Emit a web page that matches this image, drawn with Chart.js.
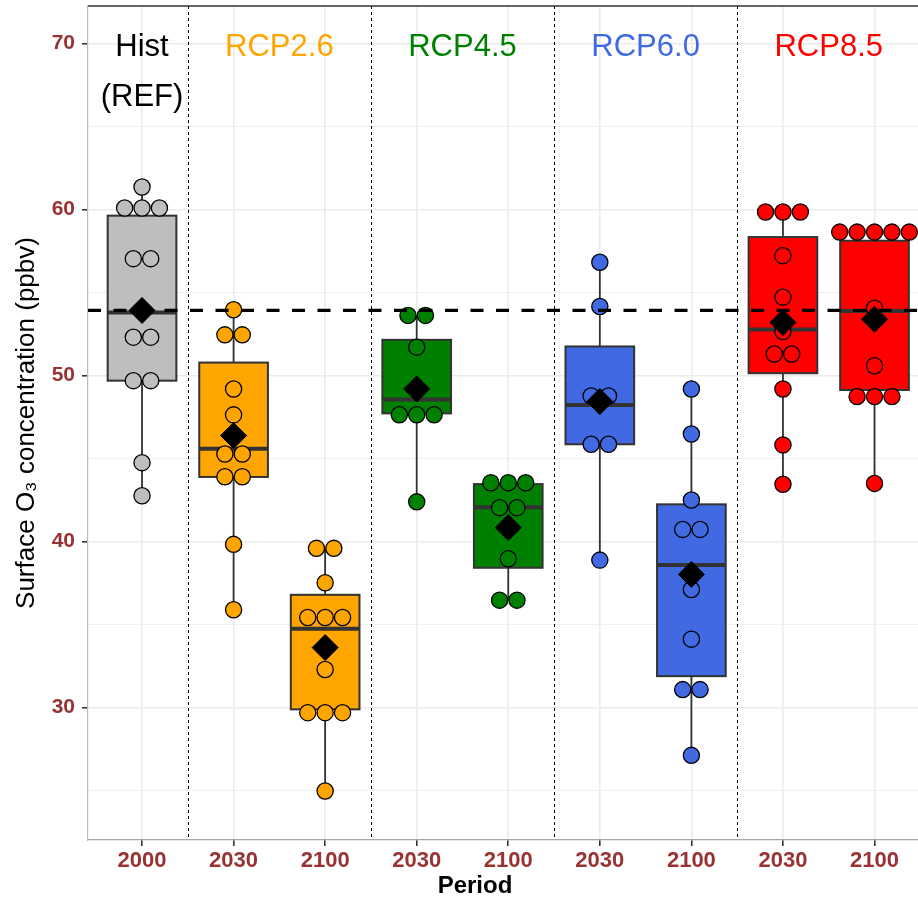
<!DOCTYPE html>
<html>
<head>
<meta charset="utf-8">
<script src="https://cdn.jsdelivr.net/npm/chart.js@4.4.1/dist/chart.umd.min.js"></script>
<style>
  html, body { margin: 0; padding: 0; background: #fff; }
  canvas { display: block; }
</style>
</head>
<body>
<canvas id="o3Chart" width="918" height="903"></canvas>
<script>
// categories
const periods = ['2000', '2030', '2100', '2030', '2100', '2030', '2100', '2030', '2100'];
const groupColors = ['#BEBEBE', '#FFA500', '#FFA500', '#008000', '#008000', '#4169E1', '#4169E1', '#FF0000', '#FF0000'];
const scenarios = [['Hist', '(REF)'], 'RCP2.6', 'RCP4.5', 'RCP6.0', 'RCP8.5'];
const scenarioColors = ['#000000', '#FFA500', '#008000', '#4169E1', '#FF0000'];
const scenarioCenters = [1, 2.5, 4.5, 6.5, 8.5];
const scenarioBreaks = [1.5, 3.5, 5.5, 7.5];

// model values (ppbv), one array per box
const hist2000 = [61.37, 60.1, 60.1, 60.1, 57.05, 57.05, 52.32, 52.32, 49.7, 49.7, 44.76, 42.77];
const rcp26_2030 = [53.97, 52.46, 52.46, 49.2, 47.64, 45.28, 45.28, 43.91, 43.91, 39.84, 35.9];
const rcp26_2100 = [39.6, 39.6, 37.53, 35.43, 35.43, 35.43, 32.3, 29.7, 29.7, 29.7, 24.98];
const rcp45_2030 = [53.63, 53.63, 51.72, 47.65, 47.65, 47.65, 42.4];
const rcp45_2100 = [43.55, 43.55, 43.55, 42.05, 42.05, 38.97, 36.48, 36.48];
const rcp60_2030 = [56.83, 54.17, 48.78, 48.78, 45.87, 45.87, 38.89];
const rcp60_2100 = [49.2, 46.49, 42.51, 40.74, 40.74, 37.12, 34.13, 31.09, 31.09, 27.13];
const rcp85_2030 = [59.86, 59.86, 59.86, 57.23, 54.73, 52.66, 51.31, 51.31, 49.2, 45.83, 43.46];
const rcp85_2100 = [58.65, 58.65, 58.65, 58.65, 58.65, 54.07, 50.6, 48.74, 48.74, 48.74, 43.51];
const groupDots = [hist2000, rcp26_2030, rcp26_2100, rcp45_2030, rcp45_2100, rcp60_2030, rcp60_2100, rcp85_2030, rcp85_2100];

// box statistics
const boxLow    = [42.77, 35.9, 24.98, 42.4, 36.48, 38.89, 27.13, 43.46, 43.51];
const boxQ1     = [49.7, 43.9, 29.9, 47.73, 38.43, 45.87, 31.9, 50.15, 49.14];
const boxMedian = [53.8, 45.6, 34.75, 48.56, 42.07, 48.24, 38.59, 52.78, 53.9];
const boxQ3     = [59.64, 50.79, 36.8, 52.16, 43.47, 51.76, 42.25, 58.35, 58.13];
const boxHigh   = [61.37, 53.97, 39.6, 53.63, 43.55, 56.83, 49.2, 59.86, 58.65];
const groupMeans = [53.93, 46.39, 33.62, 49.2, 40.85, 48.44, 38.03, 53.2, 53.4];
const refLevel = 53.93;

const fontFamily = "'Liberation Sans', Arial, sans-serif";
const tickColor = '#993333';
const boxWidth = 0.75;
const dotStep = 0.19;

// stack equal values side by side like a dotplot
const dotPoints = [];
const dotColors = [];
groupDots.forEach((vals, g) => {
  const counts = {};
  vals.forEach(v => { counts[v] = (counts[v] || 0) + 1; });
  const seen = {};
  vals.forEach(v => {
    const k = seen[v] || 0;
    seen[v] = k + 1;
    dotPoints.push({ x: g + 1 + (k - (counts[v] - 1) / 2) * dotStep, y: v });
    dotColors.push(groupColors[g]);
  });
});
const meanPoints = groupMeans.map((m, i) => ({ x: i + 1, y: m }));

const boxPlugin = {
  id: 'boxes',
  beforeDatasetsDraw(chart) {
    const { ctx, chartArea, scales: { x, y } } = chart;
    ctx.save();
    ctx.strokeStyle = '#000';
    ctx.lineWidth = 1;
    ctx.setLineDash([3, 3]);
    scenarioBreaks.forEach(b => {
      const px = Math.round(x.getPixelForValue(b)) + 0.5;
      ctx.beginPath();
      ctx.moveTo(px, chartArea.top);
      ctx.lineTo(px, chartArea.bottom);
      ctx.stroke();
    });
    ctx.setLineDash([]);
    periods.forEach((p, i) => {
      const cx = x.getPixelForValue(i + 1);
      const half = x.getPixelForValue(i + 1 + boxWidth / 2) - cx;
      const yLo = y.getPixelForValue(boxLow[i]);
      const yQ1 = y.getPixelForValue(boxQ1[i]);
      const yMed = y.getPixelForValue(boxMedian[i]);
      const yQ3 = y.getPixelForValue(boxQ3[i]);
      const yHi = y.getPixelForValue(boxHigh[i]);
      ctx.strokeStyle = '#333333';
      ctx.lineWidth = 1.8;
      ctx.beginPath();
      ctx.moveTo(cx, yLo); ctx.lineTo(cx, yQ1);
      ctx.moveTo(cx, yQ3); ctx.lineTo(cx, yHi);
      ctx.stroke();
      ctx.fillStyle = groupColors[i];
      ctx.fillRect(cx - half, yQ3, 2 * half, yQ1 - yQ3);
      ctx.lineWidth = 2;
      ctx.strokeRect(cx - half, yQ3, 2 * half, yQ1 - yQ3);
      ctx.lineWidth = 4;
      ctx.beginPath();
      ctx.moveTo(cx - half, yMed); ctx.lineTo(cx + half, yMed);
      ctx.stroke();
    });
    ctx.restore();
  },
  afterDatasetsDraw(chart) {
    const { ctx, chartArea, scales: { x, y } } = chart;
    ctx.save();
    // reference level
    const yRef = y.getPixelForValue(refLevel);
    ctx.strokeStyle = '#000';
    ctx.lineWidth = 3.3;
    ctx.setLineDash([13, 12.5]);
    ctx.beginPath();
    ctx.moveTo(chartArea.left, yRef);
    ctx.lineTo(chartArea.right, yRef);
    ctx.stroke();
    ctx.setLineDash([]);
    // panel top border
    ctx.strokeStyle = '#333333';
    ctx.lineWidth = 1.5;
    ctx.beginPath();
    ctx.moveTo(chartArea.left, chartArea.top);
    ctx.lineTo(chartArea.right, chartArea.top);
    ctx.stroke();
    // scenario labels
    ctx.font = '31px ' + fontFamily;
    ctx.textAlign = 'center';
    ctx.textBaseline = 'alphabetic';
    const y70 = y.getPixelForValue(70);
    scenarios.forEach((s, i) => {
      const lines = Array.isArray(s) ? s : [s];
      ctx.fillStyle = scenarioColors[i];
      lines.forEach((t, k) => {
        ctx.fillText(t, x.getPixelForValue(scenarioCenters[i]), y70 + 12.5 + k * 50);
      });
    });
    // x axis title
    ctx.fillStyle = '#000';
    ctx.font = 'bold 24px ' + fontFamily;
    ctx.textBaseline = 'middle';
    ctx.fillText('Period', 475, x.bottom - 17);
    ctx.restore();
  }
};

new Chart(document.getElementById('o3Chart'), {
  type: 'scatter',
  data: {
    datasets: [{
      label: 'means',
      data: meanPoints,
      pointStyle: 'rectRot',
      pointRadius: 13,
      pointBackgroundColor: '#000',
      pointBorderColor: '#000',
      pointBorderWidth: 1,
      order: 0
    }, {
      label: 'models',
      data: dotPoints,
      pointRadius: 8.1,
      pointBackgroundColor: dotColors,
      pointBorderColor: '#000',
      pointBorderWidth: 1.3,
      order: 1
    }]
  },
  options: {
    responsive: false,
    animation: false,
    devicePixelRatio: 1,
    layout: { autoPadding: false, padding: { top: 6, left: 0, right: 0, bottom: 0 } },
    plugins: { legend: { display: false }, tooltip: { enabled: false } },
    scales: {
      x: {
        type: 'linear',
        min: 0.41,
        max: 9.475,
        afterBuildTicks(scale) { scale.ticks = periods.map((p, i) => ({ value: i + 1 })); },
        afterFit(scale) {
          scale.height = 63;
          scale.paddingLeft = 0;
          scale.paddingRight = 0;
        },
        ticks: {
          callback: (v, i) => periods[i],
          color: tickColor,
          font: { family: fontFamily, size: 22, weight: 'bold' },
          padding: 2,
          maxRotation: 0,
          autoSkip: false
        },
        grid: { color: '#EBEBEB', lineWidth: 1.6, tickLength: 6, tickColor: '#333333' },
        border: { color: '#a8a8a8', width: 1.2 },
        title: { display: false }
      },
      y: {
        type: 'linear',
        min: 22.03,
        max: 72.27,
        afterFit(scale) {
          scale.width = 88;
          scale.paddingTop = 0;
          scale.paddingBottom = 0;
        },
        ticks: {
          stepSize: 5,
          includeBounds: false,
          callback: v => (v % 10 === 0 ? v : ''),
          color: tickColor,
          font: { family: fontFamily, size: 21, weight: 'bold' },
          padding: 7
        },
        grid: {
          color: '#EBEBEB',
          lineWidth: c => (c.tick && c.tick.value % 10 === 0 ? 1.6 : 0.8),
          tickLength: 6,
          tickColor: c => (c.tick && c.tick.value % 10 === 0 ? '#333333' : 'rgba(0,0,0,0)')
        },
        border: { color: '#bdbdbd', width: 1.2 },
        title: {
          display: true,
          text: 'Surface O\u2083 concentration (ppbv)',
          color: '#000',
          font: { family: fontFamily, size: 26, lineHeight: 1 },
          padding: { top: 14, bottom: 0 }
        }
      }
    }
  },
  plugins: [boxPlugin]
});
</script>
</body>
</html>
